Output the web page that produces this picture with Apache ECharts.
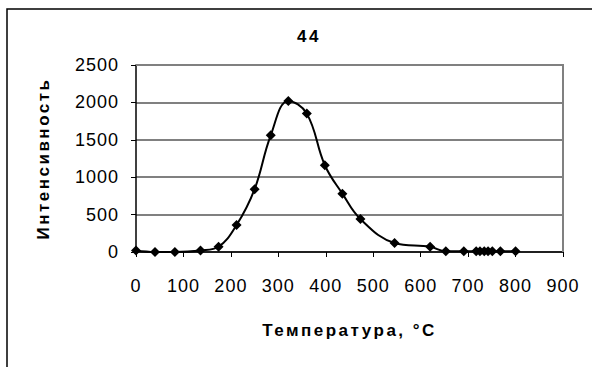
<!DOCTYPE html>
<html>
<head>
<meta charset="utf-8">
<script src="https://cdn.jsdelivr.net/npm/echarts@6/dist/echarts.min.js"></script>
<style>
  html, body { margin: 0; padding: 0; background: #fff; }
  #chart { width: 592px; height: 367px; }
  #chart text { letter-spacing: 1px; }
  #chart text[font-weight="bold"], #chart text[style*="bold"] { letter-spacing: 2.5px; }
</style>
</head>
<body>
<div id="chart"></div>
<script>
// Temperature (°C) and measured intensity for sample 44
const temperatures = [0, 40, 82, 136, 174, 212, 250, 284, 321, 360, 398, 435, 473, 545, 620, 653, 691, 717, 725, 734, 742, 751, 768, 800];
const intensities  = [20, 0, 0, 20, 70, 360, 840, 1560, 2020, 1850, 1160, 780, 440, 120, 70, 10, 10, 10, 10, 10, 10, 10, 10, 10];

const chartTitle = '44';
const xAxisTitle = 'Температура, °C';
const yAxisTitle = 'Интенсивность';

const xTicks = [0, 100, 200, 300, 400, 500, 600, 700, 800, 900];
const yTicks = [0, 500, 1000, 1500, 2000, 2500];

const points = temperatures.map((t, i) => [t, intensities[i]]);

const chart = echarts.init(document.getElementById('chart'), null, { renderer: 'svg' });

const fontFamily = '"Liberation Sans", Arial, sans-serif';

chart.setOption({
  animation: false,
  backgroundColor: '#fff',
  title: {
    text: chartTitle,
    left: 304,
    top: 23,
    textAlign: 'center',
    textStyle: { fontFamily, fontSize: 17, fontWeight: 'bold', color: '#000' }
  },
  graphic: [{
    type: 'rect',
    shape: { x: 7, y: 9, width: 620, height: 420 },
    style: { fill: 'none', stroke: '#000', lineWidth: 1.5 },
    silent: true
  }, {
    // plot area border (top and right edges)
    type: 'polyline',
    shape: { points: [[136, 65], [563, 65], [563, 252]] },
    style: { fill: 'none', stroke: '#808080', lineWidth: 2 },
    silent: true,
    z: 1
  }],
  grid: { left: 136, right: 29, top: 65, bottom: 115 },
  xAxis: {
    type: 'value',
    min: xTicks[0],
    max: xTicks[xTicks.length - 1],
    interval: 100,
    name: xAxisTitle,
    nameLocation: 'middle',
    nameGap: 70,
    nameTextStyle: { fontFamily, fontSize: 17, fontWeight: 'bold', color: '#000' },
    axisLine: { show: true, lineStyle: { color: '#000', width: 1.5 } },
    axisTick: { show: true, inside: false, length: 5, lineStyle: { color: '#000' } },
    axisLabel: { fontFamily, fontSize: 18, color: '#000', margin: 25, formatter: v => String(v) },
    splitLine: { show: false }
  },
  yAxis: {
    type: 'value',
    min: yTicks[0],
    max: yTicks[yTicks.length - 1],
    interval: 500,
    name: yAxisTitle,
    nameLocation: 'middle',
    nameGap: 84,
    nameTextStyle: { fontFamily, fontSize: 17, fontWeight: 'bold', color: '#000' },
    axisLine: { show: true, lineStyle: { color: '#000', width: 1.5 } },
    axisTick: { show: true, inside: false, length: 5, lineStyle: { color: '#000' } },
    axisLabel: { fontFamily, fontSize: 18, color: '#000', margin: 17, formatter: v => String(v) },
    splitLine: { show: true, lineStyle: { color: '#808080', width: 2 } }
  },
  series: [{
    type: 'line',
    data: points,
    smooth: 0.4,
    symbol: 'diamond',
    symbolSize: 10,
    showAllSymbol: true,
    lineStyle: { color: '#000', width: 2 },
    itemStyle: { color: '#000' },
    z: 5
  }]
});
</script>
</body>
</html>
